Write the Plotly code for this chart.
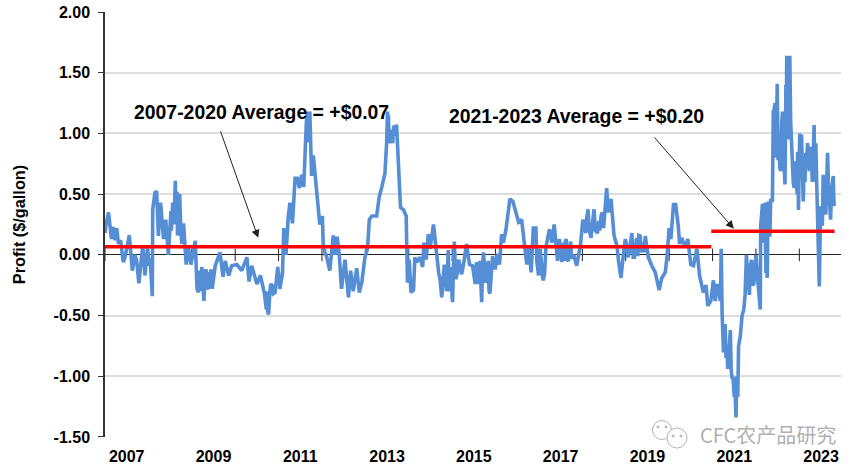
import plotly.graph_objects as go

# (decimal year, profit $/gallon)
dates_a = [2007.00,2007.02,2007.08,2007.12,2007.15,2007.19,2007.23,2007.27,2007.31,2007.36,2007.42,2007.46,2007.54,2007.56,2007.63,2007.69,2007.73,2007.78,2007.87,2007.92,2007.98,2008.02,2008.04,2008.09,2008.10,2008.15,2008.19,2008.23,2008.28,2008.35,2008.40,2008.46,2008.52,2008.56,2008.62,2008.67,2008.72,2008.77,2008.81,2008.87,2008.92,2008.98,2009.08,2009.15,2009.23,2009.28,2009.33,2009.38,2009.44,2009.47,2009.54,2009.65,2009.72,2009.77,2009.85,2009.92,2010.04,2010.15,2010.27,2010.32,2010.38,2010.50,2010.58,2010.67,2010.72,2010.77,2010.82,2010.92,2010.98]
profit_a = [.18,.24,.35,.25,.13,.23,.12,.22,.09,.12,-.06,-.02,.115,.16,-.13,0,-.05,-.235,.08,-.17,.06,-.09,-.03,-.34,.375,.51,.525,.155,.43,.13,.29,0,.36,.43,.61,.16,.5,.09,.26,-.08,.07,-.08,.115,-.31,-.1,-.38,-.12,-.28,-.12,-.28,-.09,.02,-.18,-.05,-.17,-.09,-.08,-.13,-.02,-.22,-.09,-.24,-.17,-.31,-.45,-.49,-.24,-.31,-.1]

dates_b = [2011.03,2011.09,2011.12,2011.17,2011.22,2011.26,2011.32,2011.38,2011.43,2011.48,2011.53,2011.58,2011.65,2011.68,2011.72,2011.76,2011.80,2011.85,2011.89,2011.92,2011.95,2012.01,2012.03,2012.11,2012.18,2012.26,2012.30,2012.35,2012.40,2012.45,2012.53,2012.61,2012.66,2012.72,2012.80,2012.86,2012.92,2012.99,2013.05,2013.09,2013.15,2013.26,2013.32,2013.38,2013.45,2013.49,2013.51,2013.55,2013.59,2013.63,2013.67,2013.72,2013.77,2013.81,2013.88,2013.94,2013.97,2014.01,2014.05,2014.11,2014.14,2014.18,2014.26,2014.32,2014.35,2014.40,2014.45,2014.49,2014.57,2014.63,2014.69,2014.76,2014.82,2014.88,2014.91,2014.95,2015.01,2015.05,2015.08,2015.15]
profit_b = [-.28,-.15,.22,.0,.3,.43,.26,.63,.63,.55,.66,.56,1.18,.93,1.18,.65,.82,.62,.47,.37,.25,.32,.06,-.02,-.13,.16,0,.15,-.01,-.28,-.04,-.35,-.13,-.3,-.11,-.31,-.22,-.02,.05,.29,.32,.32,.48,.56,.67,.92,1.18,.92,1.03,.92,1.06,1.06,.59,.39,.37,.32,-.23,-.04,-.31,-.29,-.02,-.06,-.02,-.1,.1,-.04,.17,.05,.25,.02,-.15,-.35,-.08,-.26,.04,-.2,-.39,.11,-.2,-.04]

dates_c = [2015.18,2015.22,2015.27,2015.33,2015.40,2015.47,2015.53,2015.56,2015.60,2015.64,2015.68,2015.72,2015.77,2015.83,2015.87,2015.93,2015.99,2016.04,2016.09,2016.14,2016.18,2016.24,2016.30,2016.33,2016.40,2016.47,2016.53,2016.60,2016.68,2016.72,2016.77,2016.82,2016.87,2016.93,2016.99,2017.03,2017.10,2017.16,2017.24,2017.30,2017.35,2017.43,2017.47,2017.53,2017.63,2017.68,2017.73,2017.80,2017.87,2017.96,2018.01,2018.06,2018.13,2018.20,2018.27,2018.35,2018.43,2018.49,2018.53,2018.56,2018.60,2018.66,2018.73,2018.80,2018.83,2018.89,2018.95,2018.99,2019.05,2019.14,2019.20,2019.30]
profit_c = [-.09,-.16,-.06,.09,-.08,-.09,-.24,-.06,-.24,-.05,-.39,.02,-.23,-.05,-.32,-.01,-.12,.01,-.08,.17,.1,.21,.375,.46,.44,.35,.27,.29,.07,-.08,.06,-.145,.22,.22,-.17,.05,-.21,.06,.21,.1,.25,-.05,.13,-.06,.13,-.05,.11,0,-.09,.09,.29,.21,.375,.14,.375,.18,.32,.22,.43,.55,.35,.46,.16,.07,-.04,-.19,.02,.13,-.02,.18,-.02,.16]

dates_d = [2019.33,2019.37,2019.45,2019.52,2019.60,2019.68,2019.77,2019.83,2019.91,2019.95,2020.00,2020.04,2020.10,2020.15,2020.21,2020.24,2020.29,2020.37,2020.43,2020.50,2020.56,2020.64,2020.70,2020.79,2020.85,2020.89,2020.96,2021.02,2021.06,2021.11,2021.18,2021.20,2021.22,2021.25,2021.29,2021.35,2021.41,2021.45,2021.48,2021.51,2021.54,2021.58,2021.60,2021.64]
profit_d = [.155,.02,.155,-.02,-.09,-.145,-.29,-.19,-.145,-.02,.22,.13,.415,.415,.24,.09,.14,.06,.13,-.08,-.09,.05,-.17,-.31,-.25,-.42,-.38,-.21,-.38,-.24,-.38,.05,-.47,-.79,-.57,-.94,-.62,-1.02,-1.17,-1.02,-1.34,-1.17,-.75,-.67]

dates_e = [2021.68,2021.72,2021.75,2021.78,2021.85,2021.90,2021.95,2022.00,2022.04,2022.08,2022.10,2022.11,2022.17,2022.21,2022.23,2022.26,2022.28,2022.32,2022.34,2022.38,2022.40,2022.44,2022.49,2022.51,2022.57,2022.61,2022.67,2022.71,2022.75,2022.78,2022.82,2022.86,2022.91,2022.98,2023.01,2023.05,2023.09,2023.15,2023.19,2023.23,2023.27,2023.30,2023.34,2023.38,2023.42,2023.46,2023.49,2023.53,2023.55,2023.61,2023.65,2023.69,2023.72,2023.78,2023.80]
profit_e = [-.5,-.45,-.33,0,-.33,-.04,-.24,0,-.2,-.37,-.45,.24,.39,.43,-.15,-.19,.44,.15,.45,.45,1.19,1.25,1.41,.78,.69,1.18,.58,1.64,.95,1.64,.89,.6,.77,.37,1.0,.99,.44,.84,.92,.69,.89,.6,1.07,.92,.345,-.26,.4,.24,.66,.33,.84,.45,.29,.65,.4]

# further weekly wiggles read from the densest stretches
dates_f = [2008.53,2008.59,2008.64,2008.66,2008.69,2008.70,2008.75,2009.10,2009.12,2009.18,2009.20,2009.25,2009.30,2009.35,2009.40,2009.42,2010.74,2010.75,2010.80,2010.85,2010.88,2011.67,2011.70,2011.73,2011.74,2013.52,2013.53,2013.57,2013.61,2013.65,2013.69,2013.70,2014.72,2014.74,2014.85,2014.87,2014.93,2014.98,2015.00,2015.03,2015.12,2015.55,2015.58,2015.62,2015.66,2015.70,2015.75,2015.80,2015.85,2016.95,2017.05,2017.08,2017.13,2017.55,2017.58,2017.60,2017.65,2017.70,2017.75,2018.08,2018.10,2018.16,2018.23,2018.30,2018.38,2018.40,2018.46,2019.02,2019.08,2019.12,2019.17,2019.25,2019.28,2019.40,2019.42,2019.48]
profit_f = [.2,.25,.28,.52,.2,.48,.18,-.15,-.28,-.13,-.3,-.2,-.15,-.27,-.14,-.27,-.3,-.47,-.3,-.25,-.32,1.1,1.0,.95,.75,.95,1.15,1.0,.95,1.05,.98,1.07,-.2,-.3,-.15,-.3,-.3,-.1,-.35,-.1,-.15,-.2,-.1,-.2,-.3,-.1,-.1,-.2,-.3,-.05,-.1,-.18,-.15,.1,-.05,.1,-.04,.05,-.03,.18,.3,.2,.25,.2,.28,.2,.35,.08,.02,.15,-.02,.14,-.01,.1,.02,.08]
dates_g = [2021.23,2021.27,2021.31,2021.33,2021.38,2021.43,2021.47,2021.50,2021.56,2021.82,2021.87,2021.92,2021.97,2022.13,2022.15,2022.19,2022.25,2022.41,2022.42,2022.46,2022.47,2022.53,2022.55,2022.59,2022.63,2022.65,2022.69,2022.70,2022.73,2022.74,2022.76,2022.77,2022.80,2022.84,2022.88,2022.93,2022.95,2022.96,2022.99,2023.03,2023.07,2023.11,2023.13,2023.17,2023.21,2023.25,2023.32,2023.36,2023.40,2023.44,2023.51,2023.57,2023.59,2023.63,2023.67,2023.74,2023.76]
profit_g = [-.6,-.79,-.85,-.75,-.7,-.95,-1.0,-1.17,-1.0,-.2,-.1,-.25,-.15,.3,.42,.1,-.1,1.0,1.2,1.1,.8,.9,.72,1.05,.85,.6,1.4,1.2,1.0,1.5,1.3,1.0,1.1,.75,.55,.6,.5,.85,.6,.8,.55,.7,.6,.78,.75,.8,.9,.6,.6,.1,.35,.45,.5,.6,.6,.5,.6]

pairs = sorted(zip(dates_a + dates_b + dates_c + dates_d + dates_e + dates_f + dates_g,
                   profit_a + profit_b + profit_c + profit_d + profit_e + profit_f + profit_g))
dates = [p[0] for p in pairs]
profit = [p[1] for p in pairs]

avg_1_x = [2007.0, 2020.97]
avg_1_y = [0.066, 0.066]
avg_2_x = [2020.97, 2023.81]
avg_2_y = [0.194, 0.194]

year_ticks = list(range(2007, 2024))
year_labels = ["2007","2009","2011","2013","2015","2017","2019","2021","2023"]
label_pos = [2007.5,2009.5,2011.5,2013.5,2015.5,2017.5,2019.5,2021.5,2023.5]
y_ticks = [2,1.5,1,.5,0,-.5,-1,-1.5]
y_labels = ["2.00","1.50","1.00","0.50","0.00","-0.50","-1.00","-1.50"]

FONT = "Liberation Sans"
BLUE = "#558ed5"
GREY = "#b4b4b4"

W, H = 865, 474
L, R, T, B = 105, 24, 12, 37
def px(v): return (v - 105) / 736
def py(v): return (437 - v) / 425

fig = go.Figure()
fig.add_trace(go.Scatter(x=year_ticks, y=[0]*len(year_ticks), mode="markers",
    marker=dict(symbol="line-ns", size=9, line=dict(color="#222222", width=1)), hoverinfo="skip"))
fig.add_trace(go.Scatter(x=dates, y=profit, mode="lines", line=dict(color=BLUE, width=3.6)))
fig.add_trace(go.Scatter(x=avg_1_x, y=avg_1_y, mode="lines", line=dict(color="#ff0000", width=3.5)))
fig.add_trace(go.Scatter(x=avg_2_x, y=avg_2_y, mode="lines", line=dict(color="#ff0000", width=3.5)))

ann_font = dict(family=FONT, size=19.4, color="#000000")
annotations = [
    dict(x=2010.6, y=1.18, xref="x", yref="y", text="<b>2007-2020 Average = +$0.07</b>", showarrow=False, font=ann_font, xanchor="center"),
    dict(x=2017.86, y=1.146, xref="x", yref="y", text="<b>2021-2023 Average = +$0.20</b>", showarrow=False, font=ann_font, xanchor="center"),
    dict(x=2010.53, y=0.14, ax=2009.65, ay=1.03, xref="x", yref="y", axref="x", ayref="y", text="", showarrow=True,
         arrowhead=2, arrowsize=1.6, arrowwidth=1, arrowcolor="#222222"),
    dict(x=2021.49, y=0.215, ax=2019.63, ay=0.98, xref="x", yref="y", axref="x", ayref="y", text="", showarrow=True,
         arrowhead=2, arrowsize=1.6, arrowwidth=1, arrowcolor="#222222"),
    dict(x=px(838), y=py(434), xref="paper", yref="paper", xanchor="right", yanchor="middle",
         text="CFC农产品研究", showarrow=False, font=dict(family="Noto Sans CJK SC", size=20, color="#b0b0b0")),
]

def ring(cx, cy, r, fill="rgba(0,0,0,0)"):
    return dict(type="circle", xref="paper", yref="paper", x0=px(cx-r), x1=px(cx+r), y0=py(cy+r), y1=py(cy-r),
                line=dict(color=GREY, width=1), fillcolor=fill)
shapes = [ring(662, 430, 9.5, "white"), ring(677, 438, 10, "white"),
          ring(658, 427, 1, GREY), ring(666, 427, 1, GREY), ring(673, 436, 1, GREY), ring(681, 436, 1, GREY)]

fig.update_layout(
    width=W, height=H, autosize=False,
    margin=dict(l=L, r=R, t=T, b=B, autoexpand=False),
    paper_bgcolor="white", plot_bgcolor="white", showlegend=False,
    font=dict(family=FONT, size=16, color="#000000"),
    annotations=annotations, shapes=shapes,
    xaxis=dict(range=[2007, 2023.96], tickmode="array", tickvals=label_pos, automargin=False,
        ticktext=[f"<b>{t}</b>" for t in year_labels], ticks="", showgrid=False, zeroline=False,
        showline=False, tickfont=dict(family=FONT, size=16), tickangle=0, ticklabelstandoff=8),
    yaxis=dict(range=[-1.5005, 2.0005], tickmode="array", tickvals=y_ticks, automargin=False,
        ticktext=[f"<b>{t}</b>" for t in y_labels], ticks="outside", ticklen=5, tickcolor="#333333", tickwidth=1,
        showgrid=True, gridcolor="#dddddd", gridwidth=1.5, zeroline=True, zerolinecolor="#222222", zerolinewidth=1,
        showline=True, linecolor="#333333", linewidth=1.5, tickfont=dict(family=FONT, size=16), ticklabelstandoff=5,
        title=dict(text="<b>Profit ($/gallon)</b>", font=dict(family=FONT, size=16.3), standoff=24)),
)
fig.write_html("out.html", config={"displayModeBar": False},
               post_script="document.body.style.margin='0';document.documentElement.style.margin='0';")
